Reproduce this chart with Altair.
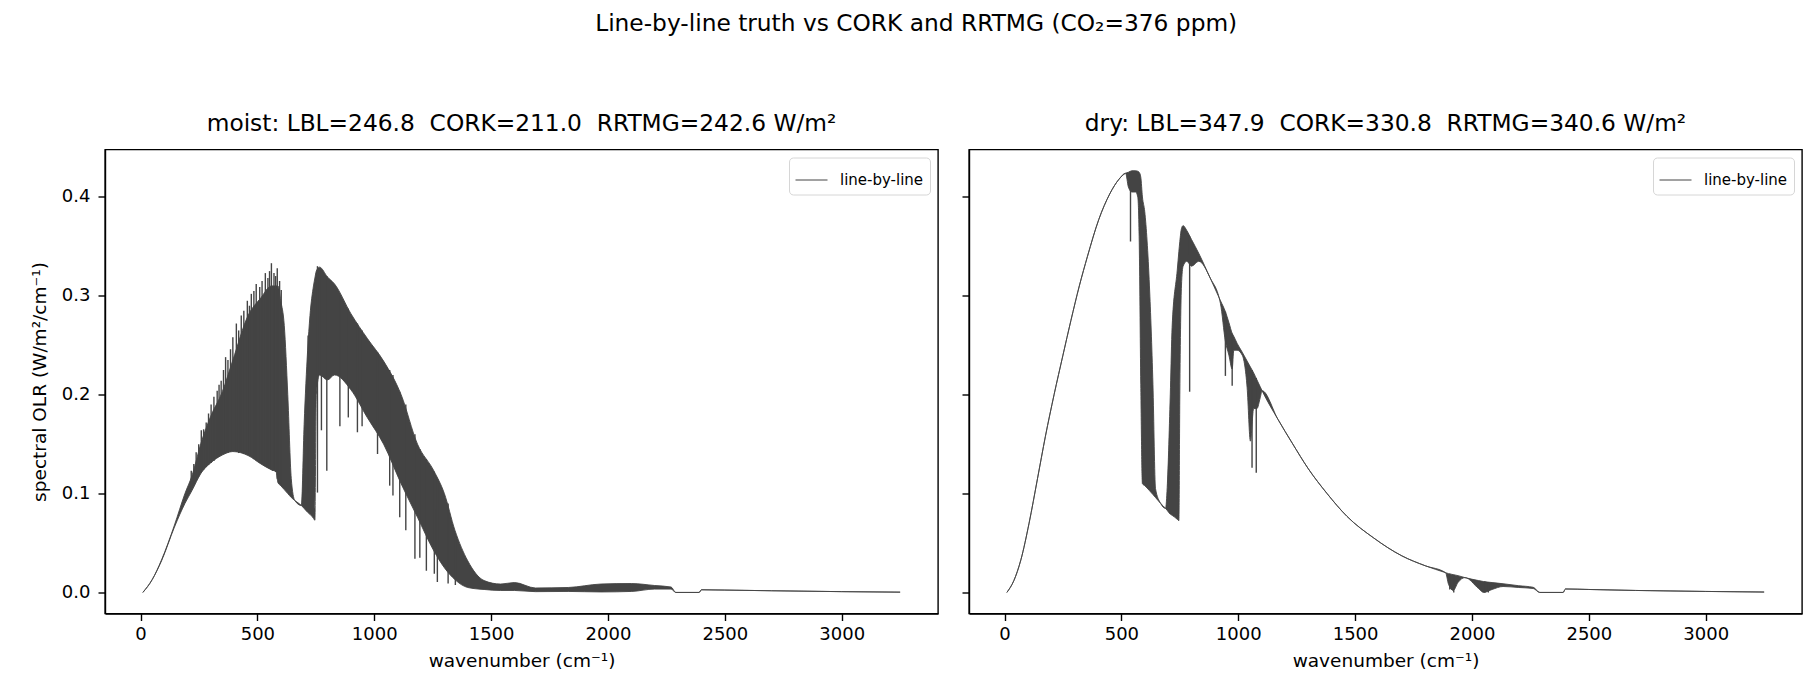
import altair as alt
import pandas as pd

# Figure text
SUPTITLE = "Line-by-line truth vs CORK and RRTMG (CO\u2082=376 ppm)"
NB = "\u00a0\u00a0"
TITLE_MOIST = f"moist: LBL=246.8{NB}CORK=211.0{NB}RRTMG=242.6 W/m\u00b2"
TITLE_DRY = f"dry: LBL=347.9{NB}CORK=330.8{NB}RRTMG=340.6 W/m\u00b2"
X_TITLE = "wavenumber (cm\u207b\u00b9)"
Y_TITLE = "spectral OLR (W/m\u00b2/cm\u207b\u00b9)"
X_TICKS = [0, 500, 1000, 1500, 2000, 2500, 3000]
Y_TICKS = [0.0, 0.1, 0.2, 0.3, 0.4]

# Moist column: top / bottom of the dense line-by-line band
MOIST_WN = [10, 50, 90, 145, 190, 220, 260, 300, 350, 395, 460, 515, 560, 580, 588,
            600, 615, 630, 645, 660, 688, 700, 715, 725, 740, 746, 752, 766, 800, 830,
            900, 970, 1040, 1115, 1185, 1255, 1300, 1345, 1400, 1470, 1540, 1600, 1690,
            1830, 1970, 2100, 2200, 2270, 2290, 2390, 2400, 2500, 2700, 3000, 3250]
MOIST_HI = [0.0, 0.013, 0.033, 0.068, 0.100, 0.118, 0.152, 0.178, 0.203, 0.235, 0.280,
            0.298, 0.310, 0.310, 0.310, 0.295, 0.27, 0.20, 0.115, 0.093, 0.088, 0.17,
            0.245, 0.28, 0.31, 0.318, 0.325, 0.329, 0.319, 0.312, 0.282, 0.257, 0.234,
            0.200, 0.150, 0.123, 0.100, 0.063, 0.032, 0.012, 0.0085, 0.010, 0.0045,
            0.005, 0.0085, 0.009, 0.007, 0.0055, 0.0, 0.0, 0.0027, 0.0024, 0.0017,
            0.0008, 0.0003]
MOIST_LO = [0.0, 0.013, 0.032, 0.066, 0.090, 0.103, 0.121, 0.131, 0.139, 0.1425, 0.1385,
            0.130, 0.124, 0.122, 0.111, 0.108, 0.104, 0.100, 0.096, 0.093, 0.088, 0.085,
            0.081, 0.079, 0.075, 0.073, 0.20, 0.22, 0.215, 0.22, 0.205, 0.177, 0.150,
            0.110, 0.076, 0.042, 0.025, 0.013, 0.005, 0.003, 0.002, 0.002, 0.0008,
            0.001, 0.0005, 0.001, 0.0034, 0.0034, 0.0, 0.0, 0.0027, 0.0024, 0.0017,
            0.0008, 0.0003]
# single strong lines: bottom and top of each
MOIST_LINE_WN = [217, 228, 238, 249, 260, 270, 281, 291, 302, 314, 328, 336, 345, 355,
                 364, 374, 385, 395, 410, 420, 431, 442, 457, 466, 474, 485, 495, 510,
                 520, 534, 545, 552, 560, 565, 571, 578, 585, 595, 602,
                 717, 757, 774, 797, 853, 889, 928, 948, 1014, 1066, 1080, 1109, 1135,
                 1174, 1195, 1223, 1257, 1270, 1316, 1347]
MOIST_LINE_LO = [0.105, 0.11, 0.113, 0.117, 0.121, 0.124, 0.127, 0.129, 0.131, 0.133,
                 0.136, 0.137, 0.139, 0.140, 0.141, 0.141, 0.142, 0.1425, 0.142, 0.141,
                 0.141, 0.140, 0.139, 0.138, 0.137, 0.135, 0.134, 0.131, 0.130, 0.128,
                 0.126, 0.125, 0.124, 0.123, 0.123, 0.122, 0.115, 0.110, 0.108,
                 0.101, 0.101, 0.164, 0.123, 0.168, 0.177, 0.162, 0.168, 0.140, 0.108,
                 0.098, 0.076, 0.063, 0.034, 0.035, 0.022, 0.019, 0.0105, 0.009, 0.0074]
MOIST_LINE_HI = [0.123, 0.13, 0.1418, 0.15, 0.164, 0.165, 0.172, 0.181, 0.19, 0.198,
                 0.204, 0.21, 0.214, 0.225, 0.238, 0.235, 0.246, 0.258, 0.272, 0.265,
                 0.280, 0.285, 0.295, 0.29, 0.302, 0.305, 0.312, 0.309, 0.315, 0.323,
                 0.318, 0.325, 0.333, 0.31, 0.323, 0.32, 0.328, 0.315, 0.306,
                 0.26, 0.33, 0.325, 0.32, 0.30, 0.287, 0.272, 0.265, 0.243, 0.225, 0.22,
                 0.203, 0.19, 0.16, 0.145, 0.135, 0.122, 0.115, 0.09, 0.06]

# Dry column
DRY_WN = [10, 40, 70, 105, 141, 175, 212, 250, 284, 320, 355, 403, 450, 490, 518, 530,
          545, 561, 570, 576, 583, 590, 600, 620, 635, 646, 668, 689, 696, 710, 717, 739,
          746, 750, 757, 764, 780, 800, 831, 880, 924, 945, 960, 974, 981, 995, 1017,
          1038, 1052, 1066, 1080, 1094, 1102, 1170, 1231, 1300, 1380, 1465, 1580, 1700,
          1800, 1887, 1900, 1920, 1940, 1970, 2028, 2050, 2086, 2133, 2200, 2262, 2290,
          2390, 2400, 2500, 2700, 3000, 3250]
DRY_HI = [0.0, 0.012, 0.033, 0.070, 0.115, 0.158, 0.200, 0.240, 0.275, 0.31, 0.340, 0.377,
          0.403, 0.418, 0.424, 0.425, 0.4265, 0.4265, 0.426, 0.425, 0.42, 0.40, 0.385,
          0.31, 0.21, 0.105, 0.090, 0.085, 0.106, 0.207, 0.268, 0.326, 0.345, 0.355,
          0.368, 0.371, 0.366, 0.357, 0.343, 0.318, 0.295, 0.284, 0.273, 0.262, 0.259,
          0.252, 0.243, 0.234, 0.228, 0.222, 0.215, 0.208, 0.204, 0.175, 0.151, 0.125,
          0.100, 0.077, 0.055, 0.037, 0.027, 0.020, 0.019, 0.018, 0.017, 0.015, 0.012,
          0.011, 0.010, 0.0088, 0.0068, 0.0052, 0.0, 0.0, 0.0035, 0.003, 0.002, 0.001,
          0.0004]
DRY_LO = [0.0, 0.012, 0.033, 0.070, 0.115, 0.158, 0.200, 0.240, 0.275, 0.31, 0.340, 0.377,
          0.403, 0.418, 0.424, 0.41, 0.405, 0.405, 0.40, 0.36, 0.21, 0.11, 0.108, 0.103,
          0.099, 0.096, 0.090, 0.085, 0.083, 0.079, 0.078, 0.074, 0.0726, 0.20, 0.31,
          0.33, 0.335, 0.33, 0.335, 0.318, 0.292, 0.254, 0.240, 0.226, 0.245, 0.245,
          0.240, 0.207, 0.153, 0.186, 0.186, 0.197, 0.204, 0.175, 0.151, 0.125, 0.100,
          0.077, 0.055, 0.037, 0.027, 0.020, 0.008, 0.002, 0.010, 0.015, 0.004, 0.0,
          0.003, 0.006, 0.005, 0.004, 0.0, 0.0, 0.0035, 0.003, 0.002, 0.001, 0.0004]
DRY_LINE_WN = [539, 792, 945, 974, 1059, 1077, 1905, 1922, 2055, 2070]
DRY_LINE_LO = [0.355, 0.203, 0.219, 0.209, 0.126, 0.121, 0.003, 0.0, 0.0, 0.0]
DRY_LINE_HI = [0.425, 0.36, 0.284, 0.262, 0.225, 0.217, 0.019, 0.018, 0.011, 0.0105]

INK = "#444444"
FONT = "DejaVu Sans"


def panel(wn, hi, lo, ln_wn, ln_lo, ln_hi, title, first):
    band = pd.DataFrame({"wn": wn, "hi": hi, "lo": lo, "series": "line-by-line"})
    lines = pd.DataFrame({"wn": ln_wn, "lo": ln_lo, "hi": ln_hi})

    x = alt.X("wn:Q", title=X_TITLE,
              scale=alt.Scale(domain=[-152, 3412], nice=False, zero=False),
              axis=alt.Axis(values=X_TICKS, format="d", labelPadding=5, titlePadding=8))
    if first:
        y_axis = alt.Axis(values=Y_TICKS, format=".1f", labelPadding=8, titlePadding=12)
        y_title = Y_TITLE
    else:
        y_axis = alt.Axis(values=Y_TICKS, labels=False)
        y_title = None
    y_scale = alt.Scale(domain=[-0.0213, 0.448], nice=False, zero=False)

    area = alt.Chart(band).mark_area(color=INK, interpolate="monotone", clip=True).encode(
        x=x, y=alt.Y("lo:Q", title=y_title, scale=y_scale, axis=y_axis), y2="hi:Q")
    upper = alt.Chart(band).mark_line(strokeWidth=0.9, interpolate="monotone", clip=True).encode(
        x=x, y=alt.Y("hi:Q", scale=y_scale),
        color=alt.Color("series:N", scale=alt.Scale(range=[INK]),
                        legend=alt.Legend(title=None, orient="top-right", offset=8)))
    lower = alt.Chart(band).mark_line(color=INK, strokeWidth=0.9, interpolate="monotone",
                                      clip=True).encode(x=x, y=alt.Y("lo:Q", scale=y_scale))
    rules = alt.Chart(lines).mark_rule(color=INK, strokeWidth=1.4, clip=True).encode(
        x=x, y=alt.Y("lo:Q", scale=y_scale), y2="hi:Q")

    return alt.layer(area, upper, lower, rules).properties(
        width=833, height=464,
        title=alt.TitleParams(title, fontSize=23.3, fontWeight="normal", offset=13))


left = panel(MOIST_WN, MOIST_HI, MOIST_LO, MOIST_LINE_WN, MOIST_LINE_LO, MOIST_LINE_HI,
             TITLE_MOIST, True)
right = panel(DRY_WN, DRY_HI, DRY_LO, DRY_LINE_WN, DRY_LINE_LO, DRY_LINE_HI,
              TITLE_DRY, False)

chart = alt.hconcat(left, right, spacing=21).resolve_scale(
    color="independent").resolve_legend(color="independent").properties(
    title=alt.TitleParams(SUPTITLE, fontSize=23.3, fontWeight="normal", anchor="middle",
                          offset=75),
    padding={"left": 21, "top": 3.5, "right": 8, "bottom": 8},
).configure(font=FONT).configure_axis(
    grid=False, labelFont=FONT, titleFont=FONT, labelFontSize=18, titleFontSize=18.5,
    titleFontWeight="normal", labelColor="black", titleColor="black",
    domainColor="black", tickColor="black", domainWidth=1.4, tickWidth=1.4, tickSize=7,
).configure_view(stroke="black", strokeWidth=1.4).configure_title(
    font=FONT, color="black").configure_legend(
    labelFont=FONT, labelFontSize=15, labelColor="black", symbolType="stroke",
    symbolSize=1024, symbolStrokeWidth=1, labelOffset=12, padding=6,
    fillColor="white", strokeColor="#d6d6d6", cornerRadius=4)

chart.save("out.html", embed_options={"renderer": "svg", "actions": False})
